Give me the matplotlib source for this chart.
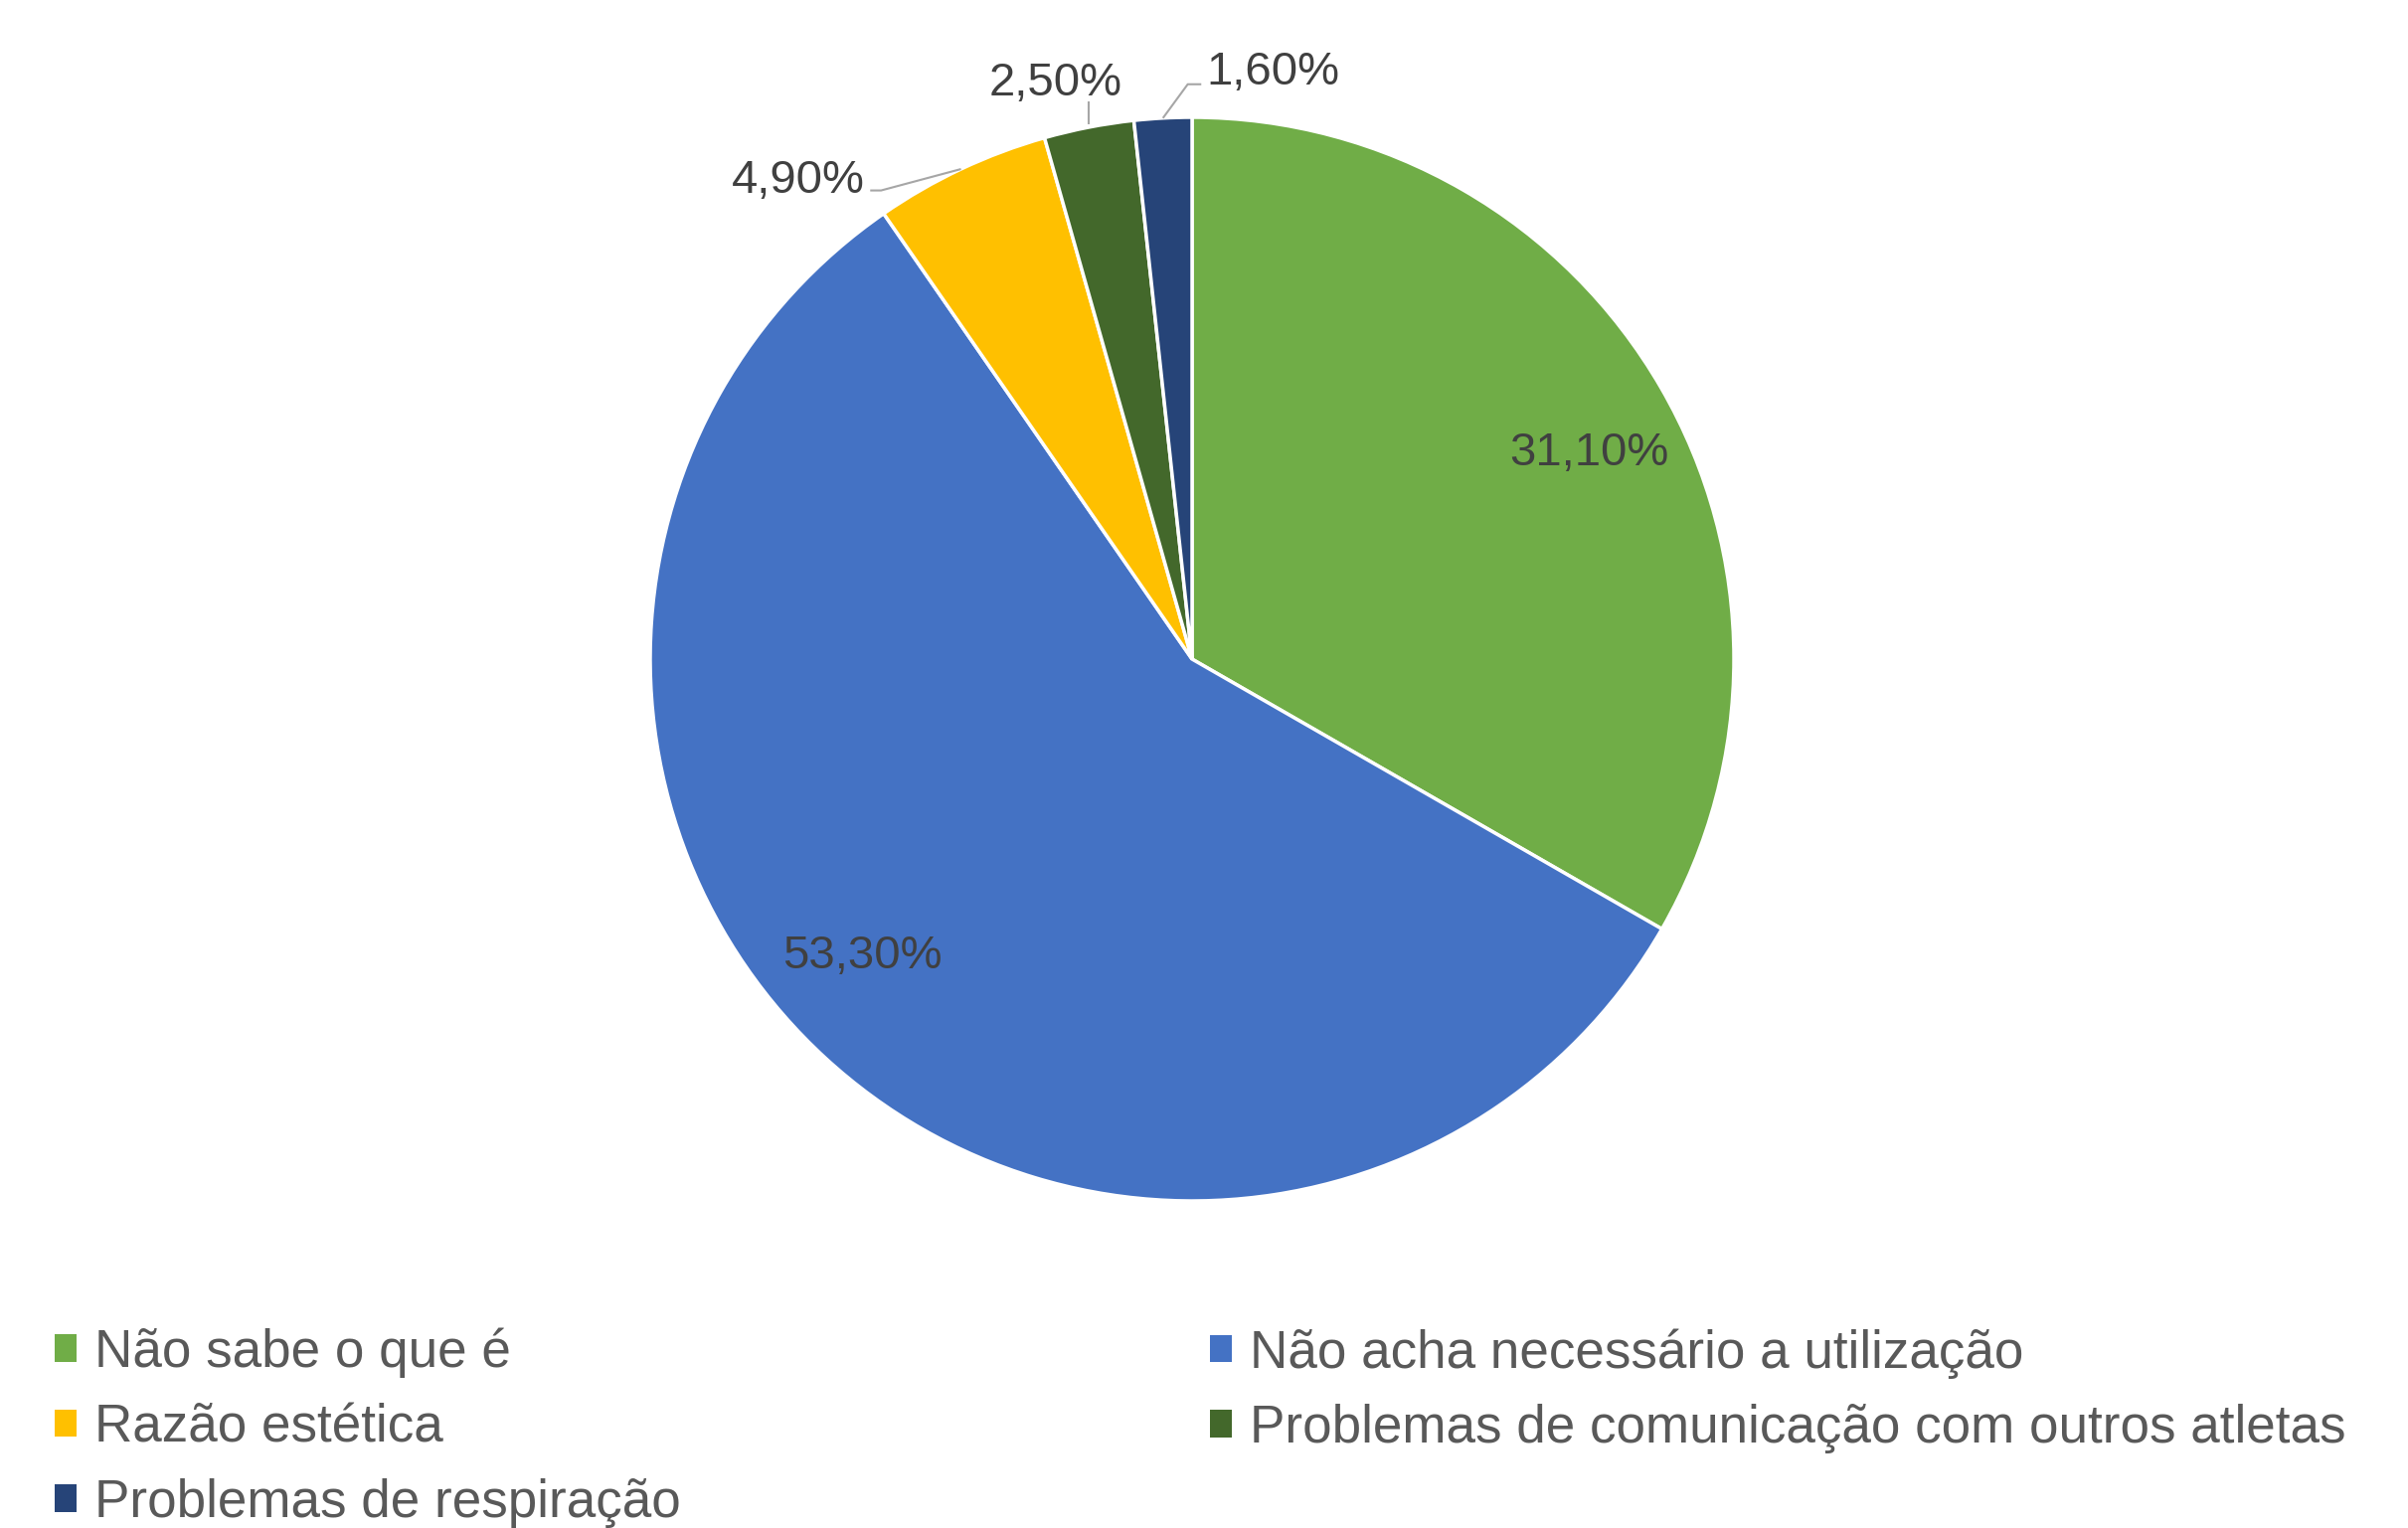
import matplotlib
matplotlib.use("Agg")
import matplotlib.pyplot as plt
from matplotlib.patches import Patch
import numpy as np

# ---- data ----
categories = ["Não sabe o que é", "Não acha necessário a utilização", "Razão estética",
              "Problemas de comunicação com outros atletas", "Problemas de respiração"]
values = [31.10, 53.30, 4.90, 2.50, 1.60]
labels = ["31,10%", "53,30%", "4,90%", "2,50%", "1,60%"]
colors = ["#70AD47", "#4472C4", "#FFC000", "#43682B", "#264478"]

plt.rcParams['font.family'] = ['Liberation Sans', 'DejaVu Sans']

W, H = 2422, 1537
fig = plt.figure(figsize=(W / 100, H / 100), dpi=100)
ax = fig.add_axes([0, 0, 1, 1])
cx, cy, R = 1199, 663, 545  # pixel layout of the pie

wedges, _ = ax.pie(values, colors=colors, startangle=90, counterclock=False,
                   radius=1, center=(0, 0),
                   wedgeprops=dict(edgecolor="white", linewidth=2.5))
ax.set_aspect("auto")
ax.set_xlim((0 - cx) / R, (W - cx) / R)
ax.set_ylim((cy - H) / R, (cy - 0) / R)
ax.set_axis_off()

label_color = "#404040"
fs_label = 34
# layout: ("in", radius, angle offset) or ("out", text dx, dy relative to pie center)
layout = [("in", 0.825, -2.7), ("in", 0.819, -5.4),
          ("out", -0.727, 0.882), ("out", -0.252, 1.063), ("out", 0.149, 1.083)]

for w, lab, lay in zip(wedges, labels, layout):
    mid = np.deg2rad((w.theta1 + w.theta2) / 2)
    if lay[0] == "in":
        ang = mid + np.deg2rad(lay[2])
        ax.text(lay[1] * np.cos(ang), lay[1] * np.sin(ang), lab, ha="center", va="center",
                fontsize=fs_label, color=label_color)
    else:
        ex, ey = np.cos(mid), np.sin(mid)
        tx, ty = lay[1], lay[2]
        ax.text(tx, ty, lab, ha="center", va="center", fontsize=fs_label, color=label_color)
        lc = "#A6A6A6"
        if lab == "4,90%":
            xs = [ex, -0.574, -0.594]
            ys = [ey, 0.865, 0.865]
        elif lab == "2,50%":
            xs = [ex, ex]
            ys = [ey + 0.005, 1.03]
        else:
            xs = [ex, -0.008, 0.017]
            ys = [ey, 1.061, 1.061]
        ax.plot(xs, ys, color=lc, lw=1.5, solid_capstyle="butt")

# ---- legend ----
handles = [Patch(facecolor=c, edgecolor="none") for c in colors]
leg_kw = dict(frameon=False, fontsize=38.2, labelcolor="#595959", handlelength=0.42,
              handleheight=0.42, handletextpad=0.34, labelspacing=0.48,
              borderpad=0, borderaxespad=0, loc="center left")
left_idx = [0, 2, 4]
right_idx = [1, 3]
leg1 = fig.legend([handles[i] for i in left_idx], [categories[i] for i in left_idx],
                  bbox_to_anchor=(55 / W, 1 - 1436 / H), **leg_kw)
leg2 = fig.legend([handles[i] for i in right_idx], [categories[i] for i in right_idx],
                  bbox_to_anchor=(1217 / W, 1 - 1399 / H), **leg_kw)

fig.savefig("out.png", dpi=100)
